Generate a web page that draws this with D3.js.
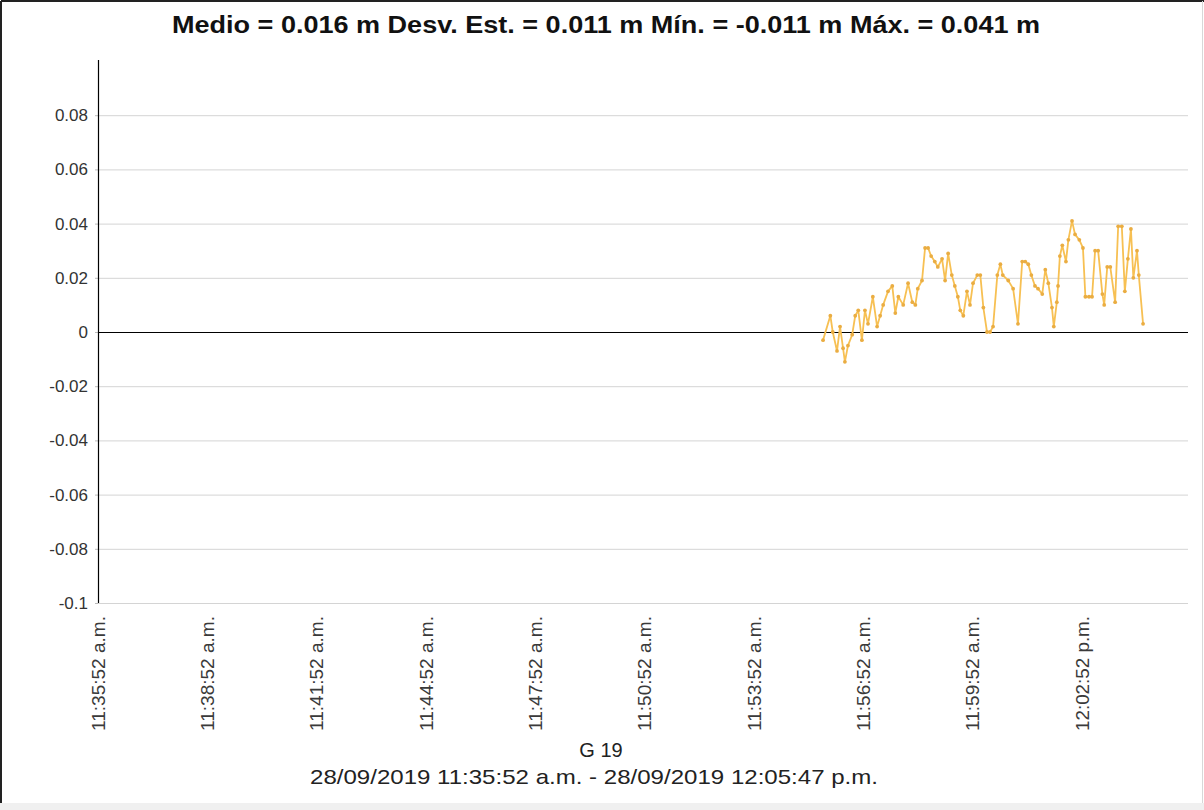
<!DOCTYPE html>
<html>
<head>
<meta charset="utf-8">
<script src="https://cdn.jsdelivr.net/npm/d3@7"></script>
<style>
  html, body { margin: 0; padding: 0; background: #ffffff; }
  svg { display: block; font-family: "Liberation Sans", Arial, sans-serif; }
</style>
</head>
<body>
<svg id="chart" width="1204" height="810"></svg>
<script>
// ---- Data -------------------------------------------------------------
const pointName = "G 19";
const startStamp = "28/09/2019 11:35:52 a.m.";
const endStamp = "28/09/2019 12:05:47 p.m.";

const statNames = ["Medio", "Desv. Est.", "Mín.", "Máx."];
const statValues = ["0.016", "0.011", "-0.011", "0.041"];
const statUnit = "m";

const yTickValues = [0.08, 0.06, 0.04, 0.02, 0, -0.02, -0.04, -0.06, -0.08, -0.1];
const yTickLabels = ["0.08", "0.06", "0.04", "0.02", "0", "-0.02", "-0.04", "-0.06", "-0.08", "-0.1"];

const xTickLabels = [
  "11:35:52 a.m.", "11:38:52 a.m.", "11:41:52 a.m.", "11:44:52 a.m.", "11:47:52 a.m.",
  "11:50:52 a.m.", "11:53:52 a.m.", "11:56:52 a.m.", "11:59:52 a.m.", "12:02:52 p.m."
];

// seconds after the start of the session
const elapsedSec = [
  1194, 1206, 1210, 1217, 1222, 1227, 1230, 1235, 1242, 1247,
  1252, 1258, 1263, 1268, 1276, 1283, 1288, 1293, 1301, 1308,
  1313, 1318, 1326, 1334, 1341, 1346, 1350, 1357, 1362, 1367,
  1372, 1378, 1383, 1390, 1395, 1400, 1406, 1411, 1416, 1420,
  1425, 1431, 1436, 1441, 1448, 1453, 1458, 1464, 1469, 1474,
  1481, 1486, 1490, 1499, 1507, 1515, 1522, 1527, 1532, 1537,
  1543, 1548, 1555, 1560, 1565, 1571, 1574, 1579, 1581, 1584,
  1588, 1594, 1598, 1604, 1609, 1616, 1622, 1626, 1632, 1637,
  1642, 1647, 1654, 1657, 1662, 1667, 1675, 1680, 1686, 1691,
  1696, 1701, 1705, 1711, 1714, 1721
];
// displacement, metres
const displacement = [
  -0.003, 0.006, 0.000, -0.007, 0.002, -0.006, -0.011, -0.005, -0.001, 0.006,
  0.008, -0.003, 0.008, 0.003, 0.013, 0.002, 0.006, 0.010, 0.015, 0.017,
  0.007, 0.013, 0.010, 0.018, 0.011, 0.010, 0.016, 0.019, 0.031, 0.031,
  0.028, 0.026, 0.024, 0.027, 0.019, 0.029, 0.021, 0.017, 0.013, 0.008,
  0.006, 0.015, 0.010, 0.018, 0.021, 0.021, 0.009, 0.000, 0.000, 0.002,
  0.021, 0.025, 0.021, 0.019, 0.016, 0.003, 0.026, 0.026, 0.025, 0.021,
  0.017, 0.016, 0.014, 0.023, 0.018, 0.009, 0.002, 0.011, 0.017, 0.028,
  0.032, 0.026, 0.034, 0.041, 0.036, 0.034, 0.031, 0.013, 0.013, 0.013,
  0.030, 0.030, 0.014, 0.010, 0.024, 0.024, 0.011, 0.039, 0.039, 0.015,
  0.027, 0.038, 0.020, 0.030, 0.021, 0.003
];

// ---- Helpers ----------------------------------------------------------
const parseStamp = (s) => d3.timeParse("%d/%m/%Y %I:%M:%S %p")(
  s.replace("a.m.", "AM").replace("p.m.", "PM"));
const datePart = startStamp.split(" ")[0];
const t0 = parseStamp(startStamp);
const t1 = parseStamp(endStamp);

const series = elapsedSec.map((s, i) => ({
  time: new Date(t0.getTime() + s * 1000),
  value: displacement[i]
}));
const xTicks = xTickLabels.map(l => parseStamp(datePart + " " + l));

// ---- Layout -----------------------------------------------------------
const W = 1204, H = 810;
const plot = { left: 98, right: 1188, top: 61, bottom: 603 };
const FONT = "'Liberation Sans', Arial, sans-serif";

const svg = d3.select("#chart");

// window frame
svg.append("rect").attr("x", 0).attr("y", 0).attr("width", W).attr("height", H).attr("fill", "#ffffff");
svg.append("rect").attr("x", 0).attr("y", 803).attr("width", W).attr("height", H - 803).attr("fill", "#f0f0f0");
svg.append("line").attr("x1", 1).attr("x2", W).attr("y1", 1).attr("y2", 1).attr("stroke", "#222").attr("stroke-width", 2);
svg.append("line").attr("x1", 1).attr("x2", 1).attr("y1", 1).attr("y2", 803).attr("stroke", "#222").attr("stroke-width", 2);
svg.append("line").attr("x1", 1202.5).attr("x2", 1202.5).attr("y1", 1).attr("y2", 803).attr("stroke", "#d8d8d8").attr("stroke-width", 1);

const x = d3.scaleTime().domain([t0, t1]).range([plot.left, plot.right]);
const y = d3.scaleLinear().domain([-0.1, 0.1]).range([plot.bottom, plot.top]);

// horizontal gridlines
const grid = svg.append("g")
  .attr("transform", `translate(${plot.left},0)`)
  .call(d3.axisLeft(y).tickValues(yTickValues).tickSize(-(plot.right - plot.left)).tickFormat(""));
grid.select(".domain").remove();
grid.selectAll(".tick line").attr("stroke", "#d4d4d4").attr("stroke-width", 1);

// zero line
svg.append("line")
  .attr("x1", plot.left).attr("x2", plot.right)
  .attr("y1", Math.round(y(0)) + 0.5).attr("y2", Math.round(y(0)) + 0.5)
  .attr("stroke", "#000").attr("stroke-width", 1.2);

// y axis with labels
const yAxis = svg.append("g")
  .attr("transform", `translate(${plot.left},0)`)
  .call(d3.axisLeft(y).tickValues(yTickValues).tickSize(3).tickPadding(7)
    .tickFormat((d, i) => yTickLabels[i]));
yAxis.select(".domain").remove();
yAxis.selectAll(".tick line").attr("stroke", "#bbb");
yAxis.selectAll(".tick text")
  .attr("font-size", 17).attr("fill", "#333")
  .attr("font-family", FONT);
svg.append("line")
  .attr("x1", plot.left + 0.5).attr("x2", plot.left + 0.5)
  .attr("y1", plot.top - 1).attr("y2", plot.bottom)
  .attr("stroke", "#000").attr("stroke-width", 1.2);

// x axis, rotated time labels
const xAxis = svg.append("g")
  .attr("transform", `translate(0,${plot.bottom})`)
  .call(d3.axisBottom(x).tickValues(xTicks).tickSize(0)
    .tickFormat((d, i) => xTickLabels[i]));
xAxis.select(".domain").remove();
xAxis.selectAll(".tick text")
  .attr("font-size", 18).attr("fill", "#3a3a3a")
  .attr("font-family", FONT)
  .attr("text-anchor", "end")
  .attr("transform", "rotate(-90)")
  .attr("textLength", 115).attr("lengthAdjust", "spacingAndGlyphs")
  .attr("x", -13).attr("y", 0).attr("dy", "0.35em");

// series line and markers
const line = d3.line().x(d => x(d.time)).y(d => y(d.value));
svg.append("path")
  .datum(series)
  .attr("d", line)
  .attr("fill", "none")
  .attr("stroke", "#f7c053")
  .attr("stroke-width", 1.8)
  .attr("stroke-linejoin", "round");
svg.append("g").selectAll("circle")
  .data(series).join("circle")
  .attr("cx", d => x(d.time)).attr("cy", d => y(d.value))
  .attr("r", 1.9).attr("fill", "#eaad42");

// title with the summary statistics
const titleText = statNames.map((n, i) => `${n} = ${statValues[i]} ${statUnit}`).join(" ");
svg.append("text")
  .attr("x", 172).attr("y", 33)
  .attr("font-size", 23).attr("font-weight", "bold").attr("fill", "#111")
  .attr("textLength", 868).attr("lengthAdjust", "spacingAndGlyphs")
  .text(titleText);

// point name and period
svg.append("text")
  .attr("x", 601).attr("y", 757).attr("text-anchor", "middle")
  .attr("font-size", 20).attr("fill", "#222")
  .text(pointName);
svg.append("text")
  .attr("x", 310).attr("y", 784)
  .attr("font-size", 21).attr("fill", "#222")
  .attr("textLength", 568).attr("lengthAdjust", "spacingAndGlyphs")
  .text(`${startStamp} - ${endStamp}`);
</script>
</body>
</html>
